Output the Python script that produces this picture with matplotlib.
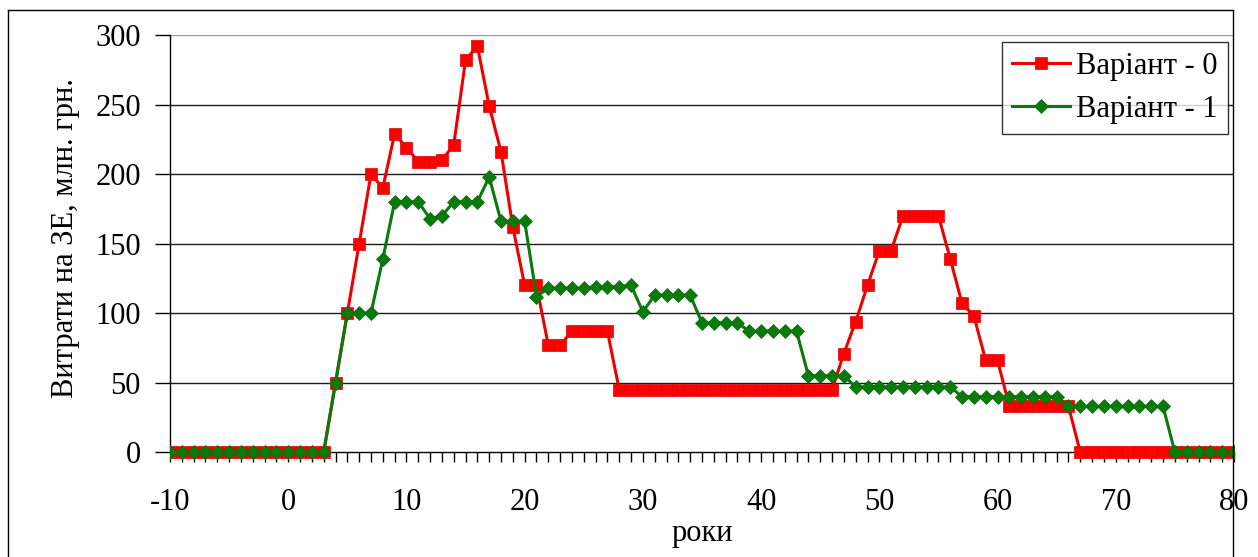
import numpy as np
import matplotlib
matplotlib.use("Agg")
import matplotlib.pyplot as plt
from matplotlib.lines import Line2D
from matplotlib.ticker import MultipleLocator
from matplotlib.transforms import Bbox, TransformedBbox

# Years of the planning horizon
years = list(range(-10, 81))

# Expenditure, million UAH — variant 0
variant0 = ([0] * 14 +
            [50, 100, 150, 200, 190, 229, 219, 209, 209, 210, 221, 282,
             292, 249, 216, 162, 120, 120, 77, 77, 87, 87, 87, 87] +
            [45] * 19 +
            [71, 94, 120, 145, 145, 170, 170, 170, 170, 139, 107, 98, 66, 66] +
            [33] * 6 +
            [0] * 14)

# Expenditure, million UAH — variant 1
variant1 = ([0] * 14 +
            [50, 100, 100, 100, 139, 180, 180, 180, 168, 170, 180, 180,
             180, 198, 166, 166, 166, 112, 118, 118, 118, 118, 119, 119,
             119, 120, 101, 113, 113, 113, 113, 93, 93, 93, 93, 87, 87,
             87, 87, 87, 55, 55, 55, 55] +
            [47] * 9 +
            [40] * 9 +
            [33] * 9 +
            [0] * 6)

series_labels = ["Варіант - 0", "Варіант - 1"]
x_label = "роки"
y_label = "Витрати на ЗЕ, млн. грн."

plt.rcParams["font.family"] = ["Liberation Serif", "DejaVu Serif"]
plt.rcParams["axes.unicode_minus"] = False
FS = 22

W, H = 1258, 557
fig = plt.figure(figsize=(W / 100, H / 100), dpi=100)
fig.patch.set_facecolor("white")

left_px, right_px, top_px, bottom_px = 170, 1234, 35, 452.3
ax = fig.add_axes([left_px / W, 1 - bottom_px / H,
                   (right_px - left_px) / W, (bottom_px - top_px) / H])

ax.set_xlim(-10, 80)
ax.set_ylim(0, 300)

# horizontal grid
for yv in [50, 100, 150, 200, 250]:
    ax.axhline(yv, color="#1a1a1a", lw=1.0, zorder=1)
ax.axhline(300, color="#9a9a9a", lw=1.0, zorder=1)

clip = TransformedBbox(Bbox([[-10, -20], [80, 320]]), ax.transData)

l0, = ax.plot(years, variant0, color="#ee0000", lw=2.2, marker="s",
              markersize=8.3, markerfacecolor="#ff0000",
              markeredgecolor="#e00000", markeredgewidth=0.5,
              label=series_labels[0], zorder=3)
l1, = ax.plot(years, variant1, color="#0a7a0a", lw=2.2, marker="D",
              markersize=7.2, markerfacecolor="#0a7a0a",
              markeredgecolor="#0a6a0a", markeredgewidth=0.5,
              label=series_labels[1], zorder=4)
for ln in (l0, l1):
    ln.set_clip_path(None)
    ln.set_clip_box(clip)

for side in ("top", "right"):
    ax.spines[side].set_visible(False)
for side in ("left", "bottom"):
    ax.spines[side].set_color("black")
    ax.spines[side].set_linewidth(1.0)
    ax.spines[side].set_zorder(2)

ax.xaxis.set_major_locator(MultipleLocator(10))
ax.xaxis.set_minor_locator(MultipleLocator(1))
ax.yaxis.set_major_locator(MultipleLocator(50))
ax.tick_params(axis="x", which="both", direction="out", length=7,
               width=1.0, color="black")
ax.tick_params(axis="x", which="major", labelsize=FS, pad=19)
ax.tick_params(axis="y", which="major", direction="out", length=11,
               width=1.0, color="black", labelsize=FS, pad=10)

ax.set_xlabel(x_label, fontsize=FS, va="baseline")
ax.xaxis.set_label_coords(0.5, (bottom_px - 541) / (bottom_px - top_px))
ax.set_ylabel(y_label, fontsize=FS, va="center")
ax.yaxis.set_label_coords((66 - left_px) / (right_px - left_px), 0.513)

leg = ax.legend(loc="upper right",
                bbox_to_anchor=((1228 - left_px) / (right_px - left_px),
                                (bottom_px - 42) / (bottom_px - top_px)),
                fontsize=FS, frameon=True, fancybox=False, shadow=False,
                borderpad=0.33, labelspacing=0.45, handlelength=1.9,
                handletextpad=0.2, borderaxespad=0.0, numpoints=1)
leg.get_frame().set_edgecolor("black")
leg.get_frame().set_linewidth(1.0)

# chart-area frame
fx0, fx1, fy0 = 8 / W, 1233 / W, 1 - 10 / H
fig.add_artist(Line2D([fx0, fx1], [fy0, fy0], color="black", lw=1.0,
                      transform=fig.transFigure, zorder=10))
fig.add_artist(Line2D([fx0, fx0], [fy0, 0], color="black", lw=1.0,
                      transform=fig.transFigure, zorder=10))
fig.add_artist(Line2D([fx1, fx1], [fy0, 0], color="black", lw=1.0,
                      transform=fig.transFigure, zorder=10))

fig.savefig("out.png", dpi=100)
